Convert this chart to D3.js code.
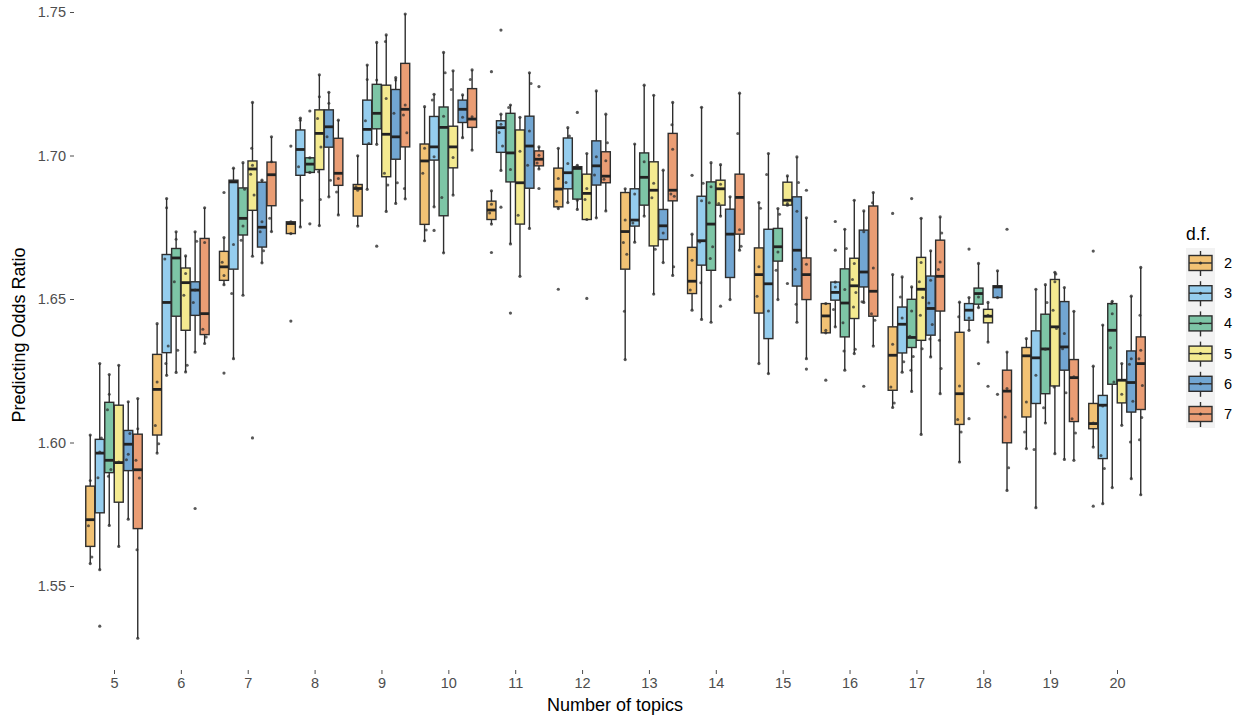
<!DOCTYPE html>
<html><head><meta charset="utf-8">
<script src="https://cdn.jsdelivr.net/npm/d3@7"></script>
<style>
body{margin:0;background:#fff;}
text{font-family:"Liberation Sans",Arial,Helvetica,sans-serif;}
</style></head>
<body><svg id="chart" width="1238" height="715"></svg>
<script>
// ---- data ----
const topics = [5,6,7,8,9,10,11,12,13,14,15,16,17,18,19,20];
const dfLevels = ["2","3","4","5","6","7"];
const dfColors = ["#F2C274","#95CDEE","#7DC5A6","#F4EA90","#72A6D2","#EA9D74"];
const yTicks = [1.55,1.60,1.65,1.70,1.75];
// [lower whisker, Q1, median, Q3, upper whisker] per topic
const df2Box = [[1.5578,1.5638,1.5731,1.5848,1.6026],[1.5963,1.6026,1.6185,1.6307,1.6414],[1.6550,1.6565,1.6612,1.6666,1.6714],[1.6728,1.6728,1.6763,1.6769,1.6769],[1.6754,1.6789,1.6885,1.6899,1.6999],[1.6703,1.6760,1.6981,1.7040,1.7170],[1.6761,1.6777,1.6810,1.6841,1.6877],[1.6815,1.6821,1.6883,1.6956,1.7025],[1.6289,1.6604,1.6735,1.6871,1.6884],[1.6461,1.6519,1.6562,1.6680,1.6726],[1.6275,1.6451,1.6585,1.6678,1.6836],[1.6382,1.6382,1.6441,1.6484,1.6484],[1.6122,1.6182,1.6304,1.6403,1.6585],[1.5932,1.6063,1.6170,1.6384,1.6489],[1.5979,1.6089,1.6302,1.6331,1.6362],[1.5984,1.6048,1.6066,1.6136,1.6266]];
const df3Box = [[1.5557,1.5755,1.5963,1.6011,1.6275],[1.6234,1.6313,1.6488,1.6655,1.6850],[1.6292,1.6604,1.6908,1.6914,1.6956],[1.6751,1.6931,1.7021,1.7089,1.7130],[1.6882,1.7039,1.7091,1.7193,1.7315],[1.6821,1.6984,1.7030,1.7136,1.7213],[1.6948,1.7011,1.7097,1.7121,1.7144],[1.6836,1.6884,1.6940,1.7061,1.7097],[1.6698,1.6754,1.6775,1.6884,1.7040],[1.6429,1.6618,1.6703,1.6858,1.7168],[1.6240,1.6362,1.6553,1.6743,1.7007],[1.6403,1.6496,1.6523,1.6559,1.6559],[1.6245,1.6312,1.6412,1.6472,1.6577],[1.6391,1.6426,1.6461,1.6484,1.6505],[1.5773,1.6136,1.6295,1.6389,1.6534],[1.5787,1.5944,1.6130,1.6164,1.6409]];
const df4Box = [[1.5711,1.5895,1.5938,1.6140,1.6237],[1.6244,1.6440,1.6643,1.6676,1.6734],[1.6513,1.6723,1.6781,1.6887,1.6975],[1.6941,1.6941,1.6970,1.6992,1.6992],[1.7039,1.7093,1.7147,1.7248,1.7394],[1.6661,1.6790,1.7098,1.7169,1.7359],[1.6692,1.6908,1.7009,1.7147,1.7176],[1.6812,1.6848,1.6955,1.6961,1.6966],[1.6789,1.6827,1.6924,1.7009,1.7245],[1.6419,1.6600,1.6761,1.6908,1.6975],[1.6498,1.6632,1.6682,1.6746,1.6815],[1.6252,1.6368,1.6486,1.6605,1.6743],[1.6178,1.6331,1.6366,1.6499,1.6542],[1.6470,1.6482,1.6519,1.6538,1.6624],[1.6068,1.6170,1.6326,1.6447,1.6550],[1.5843,1.6203,1.6391,1.6484,1.6492]];
const df5Box = [[1.5638,1.5792,1.5930,1.6130,1.6269],[1.6246,1.6391,1.6557,1.6608,1.6650],[1.6649,1.6809,1.6953,1.6981,1.7185],[1.6756,1.6951,1.7077,1.7159,1.7281],[1.6805,1.6926,1.7074,1.7245,1.7420],[1.6862,1.6957,1.7030,1.7102,1.7295],[1.6579,1.6761,1.6905,1.7089,1.7133],[1.6777,1.6777,1.6868,1.6935,1.7007],[1.6517,1.6685,1.6879,1.6978,1.7210],[1.6789,1.6827,1.6884,1.6914,1.6968],[1.6827,1.6827,1.6844,1.6907,1.6929],[1.6310,1.6432,1.6546,1.6642,1.6844],[1.6028,1.6356,1.6534,1.6645,1.6781],[1.6350,1.6417,1.6440,1.6464,1.6488],[1.5961,1.6197,1.6403,1.6568,1.6593],[1.6060,1.6138,1.6217,1.6217,1.6275]];
const df6Box = [[1.5733,1.5902,1.5994,1.6042,1.6142],[1.6315,1.6443,1.6531,1.6560,1.6734],[1.6626,1.6681,1.6750,1.6907,1.6914],[1.6856,1.7029,1.7100,1.7159,1.7220],[1.6833,1.6987,1.7065,1.7230,1.7271],[1.7062,1.7115,1.7161,1.7193,1.7211],[1.6746,1.6886,1.7033,1.7137,1.7288],[1.6783,1.6897,1.6964,1.7051,1.7225],[1.6627,1.6707,1.6755,1.6812,1.6949],[1.6498,1.6575,1.6726,1.6813,1.6856],[1.6419,1.6545,1.6670,1.6856,1.6995],[1.6488,1.6542,1.6594,1.6740,1.6807],[1.6298,1.6374,1.6467,1.6580,1.6668],[1.6505,1.6505,1.6542,1.6546,1.6598],[1.5941,1.6252,1.6333,1.6491,1.6540],[1.5874,1.6106,1.6209,1.6319,1.6510]];
const df7Box = [[1.5318,1.5700,1.5905,1.6029,1.6153],[1.6345,1.6376,1.6449,1.6711,1.6818],[1.6735,1.6825,1.6933,1.6977,1.7065],[1.6793,1.6896,1.6938,1.7060,1.7123],[1.6849,1.7030,1.7161,1.7321,1.7493],[1.7019,1.7098,1.7127,1.7233,1.7298],[1.6953,1.6964,1.6987,1.7016,1.7030],[1.6807,1.6905,1.6928,1.7013,1.7144],[1.6582,1.6842,1.6879,1.7077,1.7185],[1.6670,1.6726,1.6854,1.6935,1.7217],[1.6292,1.6498,1.6585,1.6643,1.6783],[1.6336,1.6440,1.6527,1.6824,1.6871],[1.6170,1.6458,1.6579,1.6705,1.6786],[1.5833,1.5999,1.6179,1.6252,1.6315],[1.5938,1.6073,1.6226,1.6289,1.6457],[1.5818,1.6115,1.6275,1.6368,1.6610]];
// outlying observations per topic
const df2Out = [[],[],[1.6871,1.6242],[1.7033,1.6423],[],[],[1.7292,1.6662],[1.6534],[],[1.6931],[],[1.6217],[1.6798],[],[],[1.6667,1.5778]];
const df3Out = [[1.5360],[],[],[],[],[1.6739],[1.7437,1.6820],[],[],[],[],[1.6770,1.6670],[],[1.6674,1.6083],[],[]];
const df4Out = [[],[],[],[1.7155,1.6762],[1.6684],[],[1.6451],[1.7150],[],[],[],[],[1.6850],[1.6275],[],[]];
const df5Out = [[],[],[1.6016],[],[],[],[],[1.6502],[],[1.6475],[1.6554],[],[],[1.6196],[],[]];
const df6Out = [[],[1.5770],[],[],[],[],[],[],[],[],[],[1.6196],[],[1.6168],[],[]];
const df7Out = [[],[],[],[],[],[],[1.7240,1.6885],[],[],[],[1.6879,1.6256],[],[],[1.6743],[],[]];
// other individual observations (inside the whiskers) per topic
const df2Pts = [[1.5868,1.5710,1.5601],[1.6211,1.6059,1.5996],[1.6582,1.6628],[],[1.6879,1.6891],[1.7025,1.6938,1.6740],[1.6830,1.6800],[1.6920,1.6841],[1.6775,1.6697,1.6656,1.6457],[1.6635,1.6531],[1.6612,1.6510,1.6816],[1.6391],[1.6342,1.6193,1.6138],[1.6197,1.6080,1.6037,1.6438],[1.6141,1.6037],[1.6068]];
const df3Pts = [[1.5967,1.5877,1.6016],[1.6818,1.6639,1.6336,1.6275],[1.6690,1.6519],[1.7123,1.6961,1.6844],[1.7265,1.7121,1.7042],[1.6996,1.7193],[1.7109,1.7080,1.7033],[1.6972,1.6906,1.7068],[1.6866,1.6765],[1.6842,1.6699,1.6903,1.6557],[1.6458,1.6934],[1.6542,1.6463],[1.6434,1.6507,1.6281],[1.6434],[1.6234,1.5976],[1.6127,1.5955,1.5909]];
const df4Pts = [[1.6168,1.6114,1.5906,1.5882],[1.6708,1.6560,1.6321],[1.6754,1.6705,1.6882],[],[1.7263],[1.7137,1.6854,1.7288],[1.6951,1.7167],[1.6844],[1.6978],[1.6891,1.6835,1.6682,1.6641],[1.6664,1.6600,1.6795],[1.6533,1.6417,1.6676,1.6319],[1.6458,1.6370,1.6300,1.6252],[1.6507],[1.6325,1.6121,1.6488],[1.6449,1.6330,1.6211,1.6484]];
const df5Pts = [[1.5932],[1.6589,1.6513,1.6269],[1.6966,1.6935,1.6862,1.7025],[1.7205,1.7129,1.7030,1.6943,1.6847],[1.7199,1.6938,1.6897,1.7397],[1.6993,1.7230],[1.7015,1.6792],[1.6885,1.6847],[1.6903,1.6853,1.6673],[1.6900,1.6833],[1.6833],[1.6624,1.6568,1.6523,1.6472,1.6325],[1.6627,1.6560,1.6505,1.6443,1.6327],[1.6443],[1.6560,1.6461,1.6397,1.6193,1.6587],[1.6168]];
const df6Pts = [[1.5959,1.5940,1.6031],[1.6531,1.6488,1.6701],[1.6769,1.6734,1.6668],[1.7182,1.7065,1.6914],[1.7263,1.7147,1.6905],[1.7133],[1.7085,1.6966,1.7251],[1.6996,1.6932],[1.6730],[],[1.6806,1.6604,1.6906,1.6482],[1.6734,1.6490],[1.6565,1.6486,1.6411,1.6361],[],[1.6380,1.6327,1.6173],[1.6292,1.6273,1.6144,1.6002]];
const df7Pts = [[1.6048,1.5938,1.5876,1.5626],[1.6697,1.6395,1.6368],[1.6978,1.6781],[1.6920,1.6873],[1.7176,1.7141,1.7079,1.6885],[1.7135,1.7265],[1.7001,1.6974],[1.6982,1.6917,1.7044],[1.7022,1.6866,1.6858,1.7107,1.6612],[1.6741,1.7077,1.6684],[1.6621],[1.6608,1.6449,1.6426,1.6835],[1.6629,1.6603,1.6730,1.6356,1.6258],[1.6188,1.6089,1.5912],[1.6229,1.6083,1.6033],[1.6321,1.6292,1.6199,1.6443,1.6087,1.6010]];

const boxSets = [df2Box,df3Box,df4Box,df5Box,df6Box,df7Box];
const outSets = [df2Out,df3Out,df4Out,df5Out,df6Out,df7Out];
const ptSets = [df2Pts,df3Pts,df4Pts,df5Pts,df6Pts,df7Pts];

// ---- chart ----
const svg = d3.select("#chart");
const x = d3.scalePoint().domain(topics).range([114,1117]);
const y = d3.scaleLinear().domain([1.55,1.75]).range([586,12]);
const slot = 9.5, bw = 9;
const ink = "#2e2e2e";
const jit = [0,-1.8,1.6,-0.8,1.0,-1.3];

const rows = [];
dfLevels.forEach((d,i)=>topics.forEach((t,j)=>rows.push({t,i,s:boxSets[i][j],o:outSets[i][j],p:ptSets[i][j]})));

const g = svg.append("g");
rows.forEach(r=>{
  const cx = x(r.t) + (r.i-2.5)*slot;
  const [lo,q1,md,q3,hi] = r.s;
  const gg = g.append("g");
  gg.append("line").attr("x1",cx).attr("x2",cx).attr("y1",y(hi)).attr("y2",y(q3)).attr("stroke",ink).attr("stroke-width",1.4);
  gg.append("line").attr("x1",cx).attr("x2",cx).attr("y1",y(q1)).attr("y2",y(lo)).attr("stroke",ink).attr("stroke-width",1.4);
  gg.append("rect").attr("x",cx-bw/2).attr("y",y(q3)).attr("width",bw).attr("height",Math.max(0.5,y(q1)-y(q3)))
    .attr("fill",dfColors[r.i]).attr("stroke",ink).attr("stroke-width",1.4);
  gg.append("line").attr("x1",cx-bw/2).attr("x2",cx+bw/2).attr("y1",y(md)).attr("y2",y(md)).attr("stroke","#222").attr("stroke-width",2.8);
  [lo,hi].concat(r.o).forEach(p=>{
    gg.append("circle").attr("cx",cx).attr("cy",y(p)).attr("r",1.6).attr("fill",ink).attr("opacity",0.8);
  });
  r.p.forEach((p,k)=>{
    gg.append("circle").attr("cx",cx+jit[k%jit.length]).attr("cy",y(p)).attr("r",1.5).attr("fill",ink).attr("opacity",0.75);
  });
});

// axes
const yAx = svg.append("g").attr("transform","translate(74,0)")
  .call(d3.axisLeft(y).tickValues(yTicks).tickFormat(d3.format(".2f")).tickSize(4).tickPadding(4));
yAx.select(".domain").remove();
yAx.selectAll("line").attr("stroke","#4d4d4d");
yAx.selectAll("text").attr("fill","#4d4d4d").style("font-size","14.5px");

const xAx = svg.append("g").attr("transform","translate(0,670)")
  .call(d3.axisBottom(x).tickSize(4).tickPadding(4));
xAx.select(".domain").remove();
xAx.selectAll("line").attr("stroke","#4d4d4d");
xAx.selectAll("text").attr("fill","#4d4d4d").style("font-size","14.5px");

svg.append("text").attr("x",615).attr("y",711).attr("text-anchor","middle").style("font-size","18px").attr("fill","#000").text("Number of topics");
svg.append("text").attr("transform","translate(25,335) rotate(-90)").attr("text-anchor","middle").style("font-size","18px").attr("fill","#000").text("Predicting Odds Ratio");

// legend
const lg = svg.append("g");
lg.append("text").attr("x",1186).attr("y",240).style("font-size","17.5px").attr("fill","#000").text("d.f.");
lg.append("rect").attr("x",1186).attr("y",248).attr("width",29).attr("height",180).attr("fill","#f2f2f2");
dfLevels.forEach((d,i)=>{
  const cy = 263 + i*30.2, cx = 1200.5;
  lg.append("line").attr("x1",cx).attr("x2",cx).attr("y1",cy-12).attr("y2",cy+13).attr("stroke",ink).attr("stroke-width",1.4);
  lg.append("rect").attr("x",cx-11.5).attr("y",cy-7.5).attr("width",23).attr("height",15).attr("fill",dfColors[i]).attr("stroke",ink).attr("stroke-width",1.4);
  lg.append("line").attr("x1",cx-11.5).attr("x2",cx+11.5).attr("y1",cy).attr("y2",cy).attr("stroke",ink).attr("stroke-width",1.4);
  lg.append("circle").attr("cx",cx).attr("cy",cy).attr("r",1.5).attr("fill",ink);
  lg.append("text").attr("x",1224).attr("y",cy+5).style("font-size","14.5px").attr("fill","#000").text(d);
});
</script></body></html>
